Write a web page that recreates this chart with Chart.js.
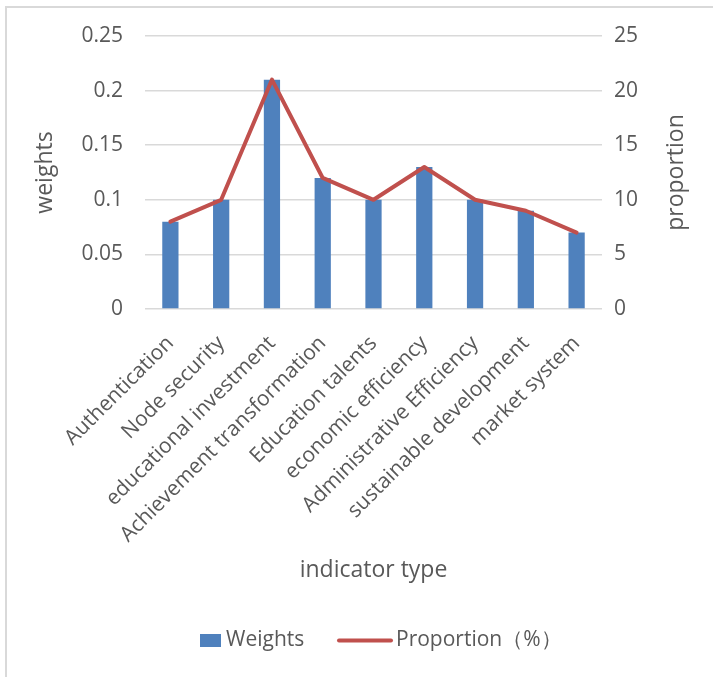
<!DOCTYPE html>
<html>
<head>
<meta charset="utf-8">
<script src="https://cdn.jsdelivr.net/npm/chart.js@4"></script>
<style>
  html, body { margin: 0; padding: 0; background: #fff; }
  #wrap { position: relative; width: 713px; height: 677px; overflow: hidden; }
  #frame { position: absolute; left: 5px; top: 6px; width: 760px; height: 720px; border: 2px solid #d9d9d9; box-sizing: border-box; }
  canvas { position: absolute; left: 0; top: 0; }
</style>
</head>
<body>
<div id="wrap">
  <div id="frame"></div>
  <canvas id="chart" width="713" height="677"></canvas>
</div>
<script>
const categories = [
  'Authentication', 'Node security', 'educational investment',
  'Achievement transformation', 'Education talents', 'economic efficiency',
  'Administrative Efficiency', 'sustainable development', 'market system'
];
const weights = [0.08, 0.10, 0.21, 0.12, 0.10, 0.13, 0.10, 0.09, 0.07];
const proportion = [8, 10, 21, 12, 10, 13, 10, 9, 7];

const FONT = "'Open Sans', 'Liberation Sans', sans-serif";
const GREY = '#595959';
const BLUE = '#4f81bd';
const RED = '#c0504d';

// legend + right axis title drawn by hand (Excel style)
const extrasPlugin = {
  id: 'excelExtras',
  afterDraw(chart) {
    const ctx = chart.ctx;
    const area = chart.chartArea;
    ctx.save();
    ctx.fillStyle = BLUE;
    ctx.fillRect(200, 634, 21, 13);
    ctx.strokeStyle = RED;
    ctx.lineWidth = 4;
    ctx.lineCap = 'round';
    ctx.beginPath();
    ctx.moveTo(339, 640.5);
    ctx.lineTo(391, 640.5);
    ctx.stroke();
    ctx.fillStyle = GREY;
    ctx.font = '21px ' + FONT;
    ctx.textBaseline = 'middle';
    ctx.fillText('Weights', 226, 640);
    ctx.fillText('Proportion（%）', 396, 640);

    // "proportion" reads bottom to top like the left title
    ctx.font = '23px ' + FONT;
    ctx.textAlign = 'center';
    ctx.translate(676, (area.top + area.bottom) / 2);
    ctx.rotate(-Math.PI / 2);
    ctx.fillText('proportion', 0, 0);
    ctx.restore();
  }
};

new Chart(document.getElementById('chart'), {
  type: 'bar',
  data: {
    labels: categories,
    datasets: [
      {
        type: 'line',
        label: 'Proportion（%）',
        data: proportion,
        yAxisID: 'y1',
        borderColor: RED,
        borderWidth: 4,
        borderJoinStyle: 'round',
        borderCapStyle: 'round',
        pointRadius: 0,
        tension: 0,
        order: 0
      },
      {
        label: 'Weights',
        data: weights,
        yAxisID: 'y',
        backgroundColor: BLUE,
        barPercentage: 0.32,
        categoryPercentage: 1,
        order: 1
      }
    ]
  },
  options: {
    responsive: false,
    animation: false,
    layout: { padding: { top: 36, bottom: 60, left: 0, right: 0 } },
    plugins: {
      legend: { display: false },
      tooltip: { enabled: false }
    },
    scales: {
      x: {
        grid: { display: false },
        border: { display: false },
        ticks: {
          color: GREY,
          font: { family: FONT, size: 21 },
          maxRotation: 45,
          minRotation: 45,
          autoSkip: false,
          padding: 14
        },
        title: {
          display: true,
          text: 'indicator type',
          color: GREY,
          font: { family: FONT, size: 23 },
          padding: { top: 0, bottom: 33 }
        },
        afterFit(scale) { scale.height = 308; }
      },
      y: {
        position: 'left',
        min: 0,
        max: 0.25,
        ticks: {
          stepSize: 0.05,
          color: GREY,
          font: { family: FONT, size: 21 },
          padding: 22,
          callback: v => String(+v.toFixed(2))
        },
        grid: { color: '#d9d9d9', lineWidth: 1.5, drawTicks: false },
        border: { display: false },
        title: {
          display: true,
          text: 'weights',
          color: GREY,
          font: { family: FONT, size: 23 },
          padding: { top: 32, bottom: 0 }
        },
        afterFit(scale) { scale.width = 145; }
      },
      y1: {
        position: 'right',
        min: 0,
        max: 25,
        ticks: {
          stepSize: 5,
          color: GREY,
          font: { family: FONT, size: 21 },
          padding: 12
        },
        grid: { display: false, drawTicks: false },
        border: { display: false },
        afterFit(scale) { scale.width = 111; }
      }
    }
  },
  plugins: [extrasPlugin]
});
</script>
</body>
</html>
